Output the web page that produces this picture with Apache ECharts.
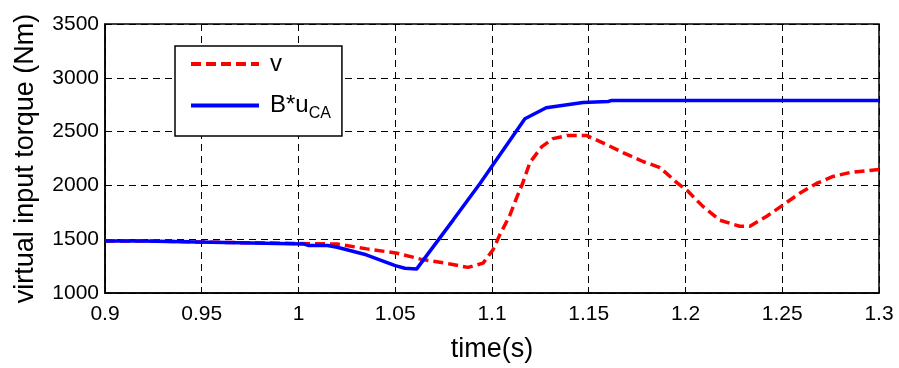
<!DOCTYPE html>
<html>
<head>
<meta charset="utf-8">
<script src="https://cdn.jsdelivr.net/npm/echarts@6/dist/echarts.min.js"></script>
<style>
    html, body {margin: 0; padding: 0; background: #fff;}
    #main {width: 899px; height: 368px;}
</style>
</head>
<body>
<div id="main"></div>
<script>
    // B*u_CA (blue, solid)
    var timeB = [0.9, 0.919, 0.92, 0.962, 0.963, 1.003, 1.005, 1.015, 1.02, 1.035, 1.05, 1.055, 1.061,
        1.08, 1.0938, 1.117, 1.128, 1.147, 1.16, 1.162, 1.3];
    var torqueB = [1484, 1484, 1470, 1470, 1455, 1455, 1442, 1442, 1425, 1355, 1255, 1230, 1222,
        1680, 2018, 2620, 2722, 2771, 2780, 2790, 2790];

    // v (red, dashed)
    var timeV = [0.9, 0.919, 0.92, 0.962, 0.963, 1.02, 1.0354, 1.051, 1.063, 1.0783, 1.0876, 1.0954,
        1.1005, 1.104, 1.109, 1.113, 1.1158, 1.1196, 1.1258, 1.1315, 1.1388, 1.149, 1.157, 1.1677,
        1.178, 1.1868, 1.1954, 1.2008, 1.209, 1.2178, 1.228, 1.2333, 1.242, 1.2504, 1.259, 1.2677,
        1.2762, 1.285, 1.3];
    var torqueV = [1484, 1484, 1470, 1470, 1455, 1455, 1410, 1370, 1315, 1270, 1238, 1278,
        1401, 1540, 1713, 1898, 2018, 2213, 2361, 2435, 2463, 2463, 2398, 2305,
        2222, 2166, 2027, 1954, 1805, 1676, 1620, 1620, 1713, 1818, 1926, 2018,
        2083, 2120, 2148];

    var FONT = "'Liberation Sans', Arial, sans-serif";

    function pairs(xs, ys) {
        var out = [];
        for (var i = 0; i < xs.length; i++) {
            out.push([xs[i], ys[i]]);
        }
        return out;
    }

    var myChart = echarts.init(document.getElementById('main'));
    var gridDash = {color: '#000', type: [7, 5], width: 1};
    var option = {
        backgroundColor: '#fff',
        animation: false,
        grid: {
            left: 105, right: 20, top: 24, bottom: 74,
            show: true, borderColor: '#000', borderWidth: 1.5
        },
        legend: {
            left: 175,
            top: 46,
            orient: 'vertical',
            itemWidth: 68,
            itemHeight: 14,
            itemGap: 13,
            padding: [6, 11, 14, 14],
            borderColor: '#000',
            borderWidth: 1.5,
            backgroundColor: '#fff',
            itemStyle: {opacity: 0},
            lineStyle: {width: 4},
            data: ['v', 'B*u_CA'],
            formatter: function (name) {
                if (name === 'B*u_CA') {
                    return '{main|B*u}{sub|CA}';
                }
                return '{main|' + name + '}';
            },
            textStyle: {
                fontFamily: FONT,
                color: '#000',
                padding: [0, 0, 0, 6],
                rich: {
                    main: {fontFamily: FONT, fontSize: 24, lineHeight: 26, color: '#000'},
                    sub: {fontFamily: FONT, fontSize: 16, lineHeight: 26, color: '#000', padding: [17, 0, 0, 0]}
                }
            }
        },
        xAxis: [{
            type: 'value',
            min: 0.9, max: 1.3, interval: 0.05,
            name: 'time(s)',
            nameLocation: 'middle',
            nameGap: 43,
            nameTextStyle: {fontFamily: FONT, fontSize: 27, color: '#000'},
            axisLine: {lineStyle: {color: '#000', width: 1.5}},
            axisTick: {inside: true, length: 6, lineStyle: {color: '#000'}},
            axisLabel: {fontFamily: FONT, fontSize: 21, color: '#000', margin: 11},
            splitLine: {show: true, lineStyle: gridDash}
        }, {
            type: 'value', position: 'top',
            min: 0.9, max: 1.3, interval: 0.05,
            axisLine: {show: false},
            axisTick: {inside: true, length: 6, lineStyle: {color: '#000'}},
            axisLabel: {show: false},
            splitLine: {show: false}
        }],
        yAxis: [{
            type: 'value',
            min: 1000, max: 3500, interval: 500,
            name: 'virtual input torque (Nm)',
            nameLocation: 'middle',
            nameGap: 66,
            nameTextStyle: {fontFamily: FONT, fontSize: 27, color: '#000'},
            axisLine: {show: true, lineStyle: {color: '#000', width: 1.5}},
            axisTick: {show: true, inside: true, length: 6, lineStyle: {color: '#000'}},
            axisLabel: {
                fontFamily: FONT, fontSize: 21, color: '#000', margin: 6,
                formatter: function (val) {
                    return String(val);
                }
            },
            splitLine: {show: true, lineStyle: gridDash}
        }, {
            type: 'value', position: 'right',
            min: 1000, max: 3500, interval: 500,
            axisLine: {show: false},
            axisTick: {show: true, inside: true, length: 6, lineStyle: {color: '#000'}},
            axisLabel: {show: false},
            splitLine: {show: false}
        }],
        series: [
            {
                name: 'v',
                type: 'line',
                symbol: 'none',
                z: 2,
                lineStyle: {color: '#ff0000', width: 3.5, type: [10, 5]},
                itemStyle: {color: '#ff0000'},
                data: pairs(timeV, torqueV)
            },
            {
                name: 'B*u_CA',
                type: 'line',
                symbol: 'none',
                z: 3,
                lineStyle: {color: '#0000ff', width: 3.5},
                itemStyle: {color: '#0000ff'},
                data: pairs(timeB, torqueB)
            }
        ]
    };

    myChart.setOption(option);
</script>
</body>
</html>
